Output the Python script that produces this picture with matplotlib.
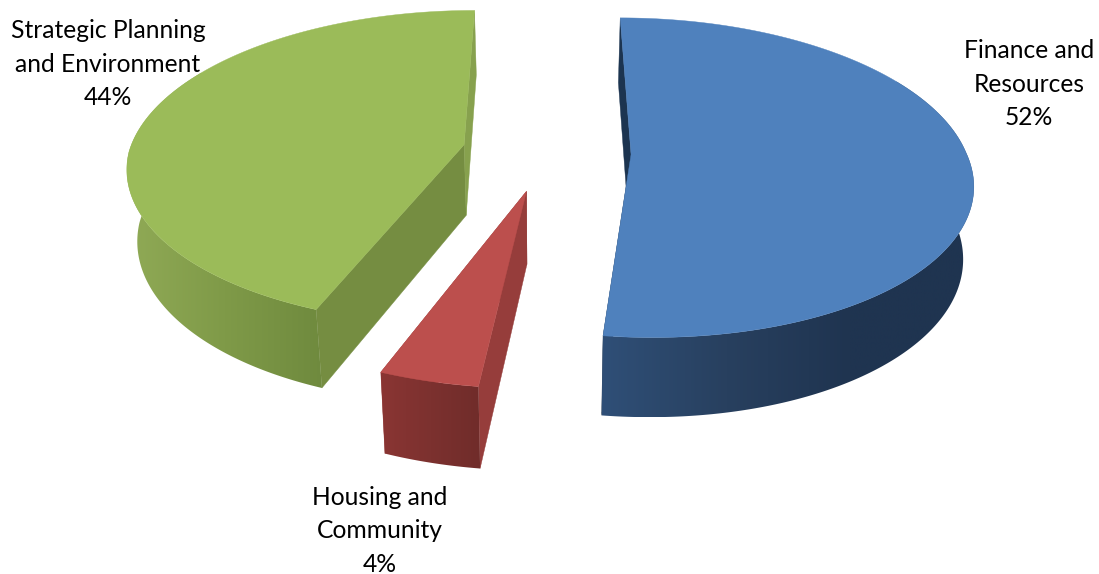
import numpy as np
import matplotlib
matplotlib.use('Agg')
import matplotlib.pyplot as plt
from matplotlib.colors import LinearSegmentedColormap
from matplotlib.patches import Polygon

# slices run clockwise from twelve o'clock
labels = ['Finance and\nResources', 'Housing and\nCommunity',
          'Strategic Planning\nand Environment']
shares = [52, 4, 44]

top_colours = ['#4f81bd', '#bc4f4d', '#9bbb59']
cut_colours = [('#1c3450', '#1c3450'), ('#963d3b', '#963d3b'),
               ('#758d41', '#87a14e')]
wall_colours = [['#2f4f77', '#28405f', '#1f3450', '#1f3450'],
                ['#8a3533', '#7c312f', '#702c2a'],
                ['#90aa56', '#7f9a48', '#6f8a3e']]
label_pos = [(1029, 84), (380, 531), (108, 64)]

# perspective camera, in pixels of the output image
CX = 546.5
RX = 335
K = 0.145
SHEAR = 7
EXPLODE = 0.252
TOP_CY, TOP_RY = 152, 155.7
LOW_CY, LOW_RY = 223, 163
BOTTOM_SCALE = 0.975


def project(x, y, lower=False):
    w = 1 + K * y
    sx = RX * x / w + SHEAR * np.maximum(-y, 0)
    if lower:
        return CX + sx * BOTTOM_SCALE, LOW_CY - LOW_RY * y / w
    return CX + sx, TOP_CY - TOP_RY * y / w


def rim(cx, cy, angles, lower=False):
    return project(cx + np.sin(angles), cy + np.cos(angles), lower)


def gradient_wall(ax, pts, colours):
    x0, x1 = pts[:, 0].min(), pts[:, 0].max()
    y0, y1 = pts[:, 1].min(), pts[:, 1].max()
    cmap = LinearSegmentedColormap.from_list('wall', colours)
    im = ax.imshow(np.linspace(0, 1, 256).reshape(1, -1), cmap=cmap,
                   extent=(x0, x1, y1, y0), aspect='auto', zorder=2)
    im.set_clip_path(Polygon(pts, closed=True, transform=ax.transData))


def draw_slice(ax, start, end, top, cuts, wall):
    mid = (start + end) / 2
    cx, cy = EXPLODE * np.sin(mid), EXPLODE * np.cos(mid)
    ax0, ay0 = project(cx, cy)
    bx0, by0 = project(cx, cy, True)

    # straight faces left by the cut
    for ang, colour in zip((start, end), cuts):
        ex, ey = rim(cx, cy, ang)
        fx, fy = rim(cx, cy, ang, True)
        quad = [(ax0, ay0), (ex, ey), (fx, fy), (bx0, by0)]
        ax.add_patch(Polygon(quad, closed=True, fc=colour, ec=colour,
                             lw=0.3, zorder=1))

    # outer wall, front part only
    lo = max(start, np.radians(60))
    hi = min(end, np.radians(300))
    angles = np.linspace(lo, hi, 200)
    ux, uy = rim(cx, cy, angles)
    lx, ly = rim(cx, cy, angles, True)
    pts = np.column_stack([np.r_[ux, lx[::-1]], np.r_[uy, ly[::-1]]])
    gradient_wall(ax, pts, wall)

    # top face
    angles = np.linspace(start, end, 300)
    tx, ty = rim(cx, cy, angles)
    face = np.column_stack([np.r_[ax0, tx], np.r_[ay0, ty]])
    ax.add_patch(Polygon(face, closed=True, fc=top, ec=top, lw=0.3, zorder=3))


def main():
    fig = plt.figure(figsize=(10.99, 5.74), dpi=100)
    ax = fig.add_axes([0, 0, 1, 1])

    edges = np.radians(np.cumsum([0] + shares) * 3.6)
    for i in range(len(shares)):
        draw_slice(ax, edges[i], edges[i + 1], top_colours[i],
                   cut_colours[i], wall_colours[i])
        ax.text(label_pos[i][0], label_pos[i][1],
                '%s\n%d%%' % (labels[i], shares[i]),
                family='Lato', fontsize=17.7, color='black', ha='center',
                va='center', linespacing=1.54, zorder=5)

    ax.set_xlim(0, 1099)
    ax.set_ylim(574, 0)
    ax.axis('off')
    fig.savefig('out.png', dpi=100, facecolor='white')


if __name__ == '__main__':
    main()
